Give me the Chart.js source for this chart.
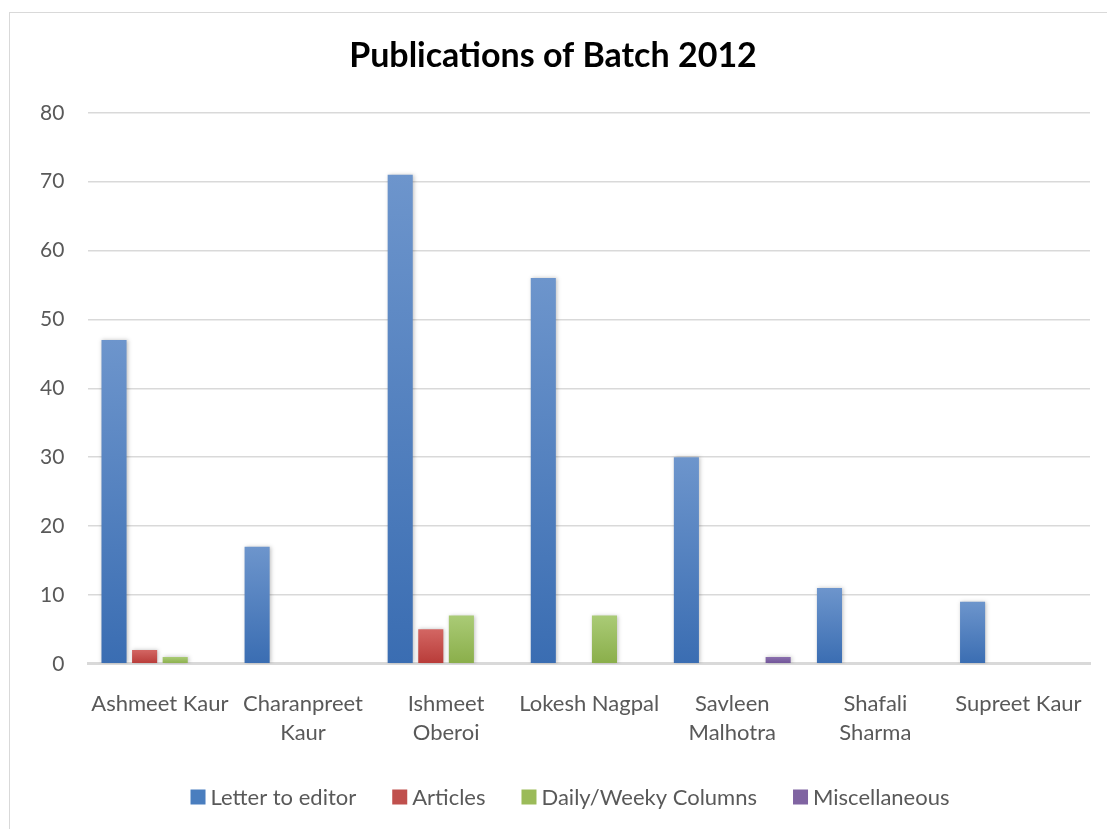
<!DOCTYPE html>
<html>
<head>
<meta charset="utf-8">
<script src="https://cdn.jsdelivr.net/npm/chart.js@4"></script>
<style>
  html, body { margin: 0; padding: 0; background: #fff; }
  #wrap { position: relative; width: 1107px; height: 829px; }
  #frame { position: absolute; left: 9px; top: 12px; right: -2px; bottom: -2px;
           border-left: 1px solid #d9d9d9; border-top: 1px solid #d9d9d9; }
  canvas { position: absolute; left: 0; top: 0; }
</style>
</head>
<body>
<div id="wrap">
  <div id="frame"></div>
  <canvas id="chart" width="1107" height="829"></canvas>
</div>
<script>
// Publications of Batch 2012, grouped bars per student

var students = [
  "Ashmeet Kaur",
  ["Charanpreet", "Kaur"],
  ["Ishmeet", "Oberoi"],
  "Lokesh Nagpal",
  ["Savleen", "Malhotra"],
  ["Shafali", "Sharma"],
  "Supreet Kaur",
];

var seriesNames = ["Letter to editor", "Articles", "Daily/Weeky Columns", "Miscellaneous"];

var letters = [47, 17, 71, 56, 30, 11, 9];
var articles = [2, 0, 5, 0, 0, 0, 0];
var columns = [1, 0, 7, 7, 0, 0, 0];
var misc = [0, 0, 0, 0, 1, 0, 0];

var yTicks = [0, 10, 20, 30, 40, 50, 60, 70, 80];

var shades = [
  { top: "#6d95cc", bottom: "#3a6db2", flat: "#4a7ebf" },
  { top: "#d36663", bottom: "#b83b38", flat: "#c0504d" },
  { top: "#aacb76", bottom: "#8aae4a", flat: "#9bbb59" },
  { top: "#8b70ae", bottom: "#6e5296", flat: "#8064a2" },
];

var font = "Lato, 'Liberation Sans', sans-serif";
var ink = "#595959";

// each bar gets its own top-to-bottom gradient, like the Office style
function barFill(i) {
  return function (ctx) {
    var chart = ctx.chart;
    if (!chart.chartArea || ctx.type !== "data") return shades[i].flat;
    var y = chart.scales.y;
    var top = y.getPixelForValue(ctx.raw);
    var base = y.getPixelForValue(0);
    if (base - top < 1) return shades[i].flat;
    var g = chart.ctx.createLinearGradient(0, top, 0, base);
    g.addColorStop(0, shades[i].top);
    g.addColorStop(1, shades[i].bottom);
    return g;
  };
}

var shadowPlugin = {
  id: "barShadow",
  beforeDatasetsDraw: function (chart) {
    var c = chart.ctx;
    c.save();
    c.shadowColor = "rgba(0,0,0,0.25)";
    c.shadowBlur = 4;
    c.shadowOffsetX = 1;
    c.shadowOffsetY = 0;
  },
  afterDatasetsDraw: function (chart) {
    chart.ctx.restore();
  },
};

// Office-style legend: small square, tight gap to the text, wide gap between items
var officeLegend = {
  id: "officeLegend",
  afterDraw: function (chart) {
    var c = chart.ctx;
    var box = 15, boxGap = 5, itemGap = 36;
    var centerX = 570, y = 797;
    c.save();
    c.font = "22px " + font;
    var widths = seriesNames.map(function (n) { return c.measureText(n).width; });
    var total = widths.reduce(function (a, w) { return a + box + boxGap + w; }, 0) +
      itemGap * (seriesNames.length - 1);
    var x = centerX - total / 2;
    c.textBaseline = "middle";
    c.textAlign = "left";
    seriesNames.forEach(function (n, i) {
      c.fillStyle = shades[i].flat;
      c.fillRect(x, y - box / 2, box, box);
      c.fillStyle = ink;
      c.fillText(n, x + box + boxGap, y + 1);
      x += box + boxGap + widths[i] + itemGap;
    });
    c.restore();
  },
};

var values = [letters, articles, columns, misc];

new Chart(document.getElementById("chart"), {
  type: "bar",
  data: {
    labels: students,
    datasets: values.map(function (v, i) {
      return {
        label: seriesNames[i],
        data: v,
        backgroundColor: barFill(i),
        borderWidth: 0,
        categoryPercentage: 0.855,
        barPercentage: 0.82,
      };
    }),
  },
  plugins: [shadowPlugin, officeLegend],
  options: {
    responsive: false,
    animation: false,
    layout: { padding: { left: 16, right: 17, top: 8, bottom: 64 } },
    plugins: {
      title: {
        display: true,
        text: "Publications of Batch 2012",
        color: "#000",
        font: { family: font, size: 34, weight: "bold" },
        padding: { top: 28, bottom: 36 },
      },
      legend: { display: false },
      tooltip: { enabled: false },
    },
    scales: {
      x: {
        grid: { display: false },
        border: { color: "#d9d9d9", width: 3 },
        ticks: {
          color: ink,
          font: { family: font, size: 22, lineHeight: 1.3 },
          maxRotation: 0,
          autoSkip: false,
          padding: 18,
        },
      },
      y: {
        min: 0,
        max: 80,
        afterBuildTicks: function (axis) {
          axis.ticks = yTicks.map(function (v) { return { value: v }; });
        },
        border: { display: false },
        grid: { color: "#d9d9d9", lineWidth: 1.5, drawTicks: false },
        ticks: {
          color: ink,
          font: { family: font, size: 21 },
          padding: 24,
        },
      },
    },
  },
});
</script>
</body>
</html>
